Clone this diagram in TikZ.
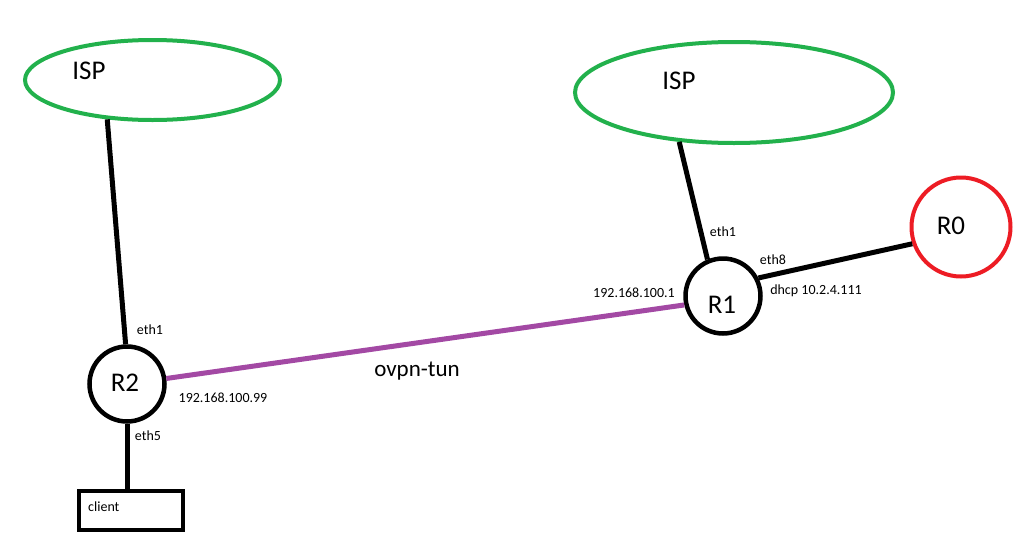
\documentclass[tikz,border=0pt]{standalone}
\usepackage{fontspec}
\setmainfont{Carlito}
\usetikzlibrary{shapes.geometric}
\definecolor{ispgreen}{HTML}{22B14C}
\definecolor{r0red}{HTML}{ED1C24}
\definecolor{tunpurple}{HTML}{A349A4}
\tikzset{
  ispcloud/.style={ellipse, draw=ispgreen, line width=4pt, inner sep=0pt},
  router/.style={circle, draw=black, line width=4.5pt, inner sep=0pt, minimum size=75pt},
  bigtxt/.style={inner sep=0pt, font=\fontsize{27}{30}\selectfont},
  smalltxt/.style={inner sep=0pt, font=\fontsize{14}{16}\selectfont},
  wire/.style={line width=5pt, black},
  tunnel/.style={line width=5pt, tunpurple},
  hostbox/.style={rectangle, draw=black, line width=4pt, inner sep=0pt, minimum width=104pt, minimum height=39pt}
}
\begin{document}
\begin{tikzpicture}[x=1pt,y=-1pt]
\useasboundingbox (0,0) rectangle (1018,536);
% ISP clouds
\node[ispcloud, minimum width=255pt, minimum height=80pt] (ispL) at (152.5,80) {};
\node[bigtxt] (ispLt) at (89,71) {ISP};
\node[ispcloud, minimum width=318pt, minimum height=101pt] (ispR) at (734,92.5) {};
\node[bigtxt] (ispRt) at (679,81) {ISP};
% routers
\node[router] (R2) at (127,384) {};
\node[bigtxt] (R2t) at (125,383) {R2};
\node[router] (R1) at (723,296) {};
\node[bigtxt] (R1t) at (722,305) {R1};
\node[router, draw=r0red, line width=4pt, minimum size=99pt] (R0) at (961,227) {};
\node[bigtxt] (R0t) at (951,226) {R0};
% client
\node[hostbox] (client) at (131,510.5) {};
\node[smalltxt, anchor=west] (clientt) at (88,507) {client};
% connectors
\draw[wire] (ispL.221) -- (R2.92);
\draw[wire] (R2.south) -- (R2.south |- client.north);
\draw[tunnel] (R2.8) -- (R1.193);
\draw[wire] (ispR.222) -- (R1.113);
\draw[wire] (R1.27) -- (R0.199);
% labels
\node[smalltxt] (l1) at (150,330) {eth1};
\node[smalltxt] (l2) at (223,398) {192.168.100.99};
\node[smalltxt] (l3) at (148,436) {eth5};
\node[inner sep=0pt, font=\fontsize{23}{26}\selectfont] (l4) at (417,371) {ovpn-tun};
\node[smalltxt] (l5) at (634,293) {192.168.100.1};
\node[smalltxt] (l6) at (723,232) {eth1};
\node[smalltxt] (l7) at (773,260) {eth8};
\node[smalltxt] (l8) at (816,291) {dhcp 10.2.4.111};
\end{tikzpicture}
\end{document}
